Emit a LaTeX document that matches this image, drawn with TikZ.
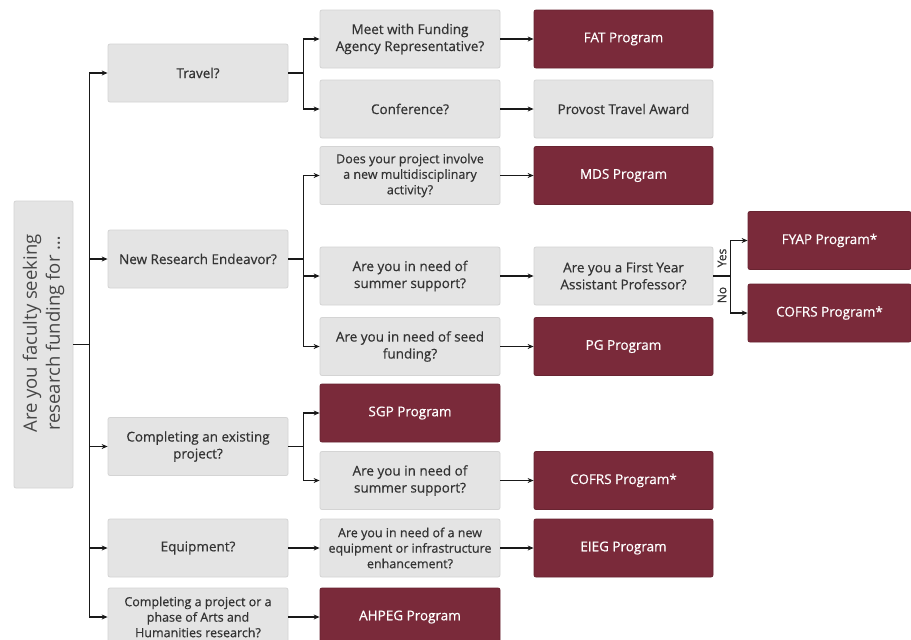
\documentclass[tikz,border=0pt]{standalone}
\usepackage{fontspec}
\setmainfont{Open Sans}
\newfontfamily\boxfont{Open Sans}[FakeBold=0.5]
\usetikzlibrary{arrows.meta,positioning,calc}
\definecolor{progred}{HTML}{7A2A3A}
\definecolor{boxgray}{HTML}{E4E4E4}
\definecolor{edgegray}{HTML}{D4D4D4}
\definecolor{inkgray}{HTML}{333333}
\tikzset{
 qbox/.style={draw=edgegray,fill=boxgray,rounded corners=2pt,text=inkgray,align=center,
  minimum width=180pt,minimum height=58pt,inner sep=2pt,line width=0.8pt},
 progbox/.style={qbox,draw=progred!85!black,fill=progred,text=white},
 link/.style={->,line width=1.6pt,draw=black!90},
 small/.style={font=\boxfont\fontsize{12.5}{15.5}\selectfont}
}
\begin{document}
\begin{tikzpicture}[x=1pt,y=-1pt,font=\boxfont\fontsize{13.5}{17}\selectfont,>={Stealth[length=6pt,width=5pt]}]
\fill[white](0,0)rectangle(911,640);
\useasboundingbox(0,0)rectangle(911,640);
% root
\node[qbox,minimum width=59pt,minimum height=287pt](root) at (43.5,344.5){};
\node[rotate=90,text=inkgray!90,align=center,font=\rmfamily\fontsize{18.5}{23}\selectfont](roottxt)
 at ($(root.center)+(0,-11)$){Are you faculty seeking\\research funding for \dots};
% first level
\node[qbox](travel) at (198,73){Travel?};
\node[qbox](newres) at (198,259){New Research Endeavor?};
\node[qbox](existing) at (198,446.5){Completing an existing\\project?};
\node[qbox](equip) at (198,548){Equipment?};
\node[qbox,small](arts) at (198,617){Completing a project or a\\phase of Arts and\\Humanities research?};
% second level
\node[qbox](meet) at (410,39){Meet with Funding\\Agency Representative?};
\node[qbox](conf) at (410,109){Conference?};
\node[qbox,small](does) at (410,175.5){Does your project involve\\a new multidisciplinary\\activity?};
\node[qbox](summerA) at (410,276){Are you in need of\\summer support?};
\node[qbox](seed) at (410,346.5){Are you in need of seed\\funding?};
\node[progbox](sgp) at (410,413){SGP Program};
\node[qbox](summerB) at (410,480.5){Are you in need of\\summer support?};
\node[qbox,small](newequip) at (410,548){Are you in need of a new\\equipment or infrastructure\\enhancement?};
\node[progbox](ahpeg) at (410,617){AHPEG Program};
% third level
\node[progbox,minimum width=179pt](fat) at (623.5,39){FAT Program};
\node[qbox,minimum width=179pt](provost) at (623.5,109){Provost Travel Award};
\node[progbox,minimum width=179pt](mds) at (623.5,175.5){MDS Program};
\node[qbox,minimum width=179pt](firstyr) at (623.5,276){Are you a First Year\\Assistant Professor?};
\node[progbox,minimum width=179pt](pg) at (623.5,346.5){PG Program};
\node[progbox,minimum width=179pt](cofrsB) at (623.5,480.5){COFRS Program*};
\node[progbox,minimum width=179pt](eieg) at (623.5,548){EIEG Program};
% fourth level
\node[progbox,minimum width=163pt](fyap) at (829.5,240.5){FYAP Program*};
\node[progbox,minimum width=163pt](cofrsA) at (829.5,313){COFRS Program*};
% trunk
\foreach \n in {travel,newres,existing,equip,arts}
 \draw[link](root.east)--++(16,0)|-(\n.west);
% branches
\foreach \a/\b in {travel/meet,travel/conf,newres/does,newres/summerA,newres/seed,existing/sgp,existing/summerB}
 \draw[link](\a.east)--++(15,0)|-(\b.west);
\foreach \a/\b in {equip/newequip,arts/ahpeg,meet/fat,conf/provost,does/mds,summerA/firstyr,seed/pg,summerB/cofrsB,newequip/eieg}
 \draw[link](\a)--(\b);
% yes / no
\draw[link](firstyr.east)--++(17,0)coordinate(yn)|-(fyap.west);
\draw[link](yn)|-(cofrsA.west);
\node[rotate=90,text=inkgray,font=\boxfont\fontsize{12}{13}\selectfont](yes) at (722,258){Yes};
\node[rotate=90,text=inkgray,font=\boxfont\fontsize{12}{13}\selectfont](no) at (722,295){No};
\end{tikzpicture}
\end{document}
